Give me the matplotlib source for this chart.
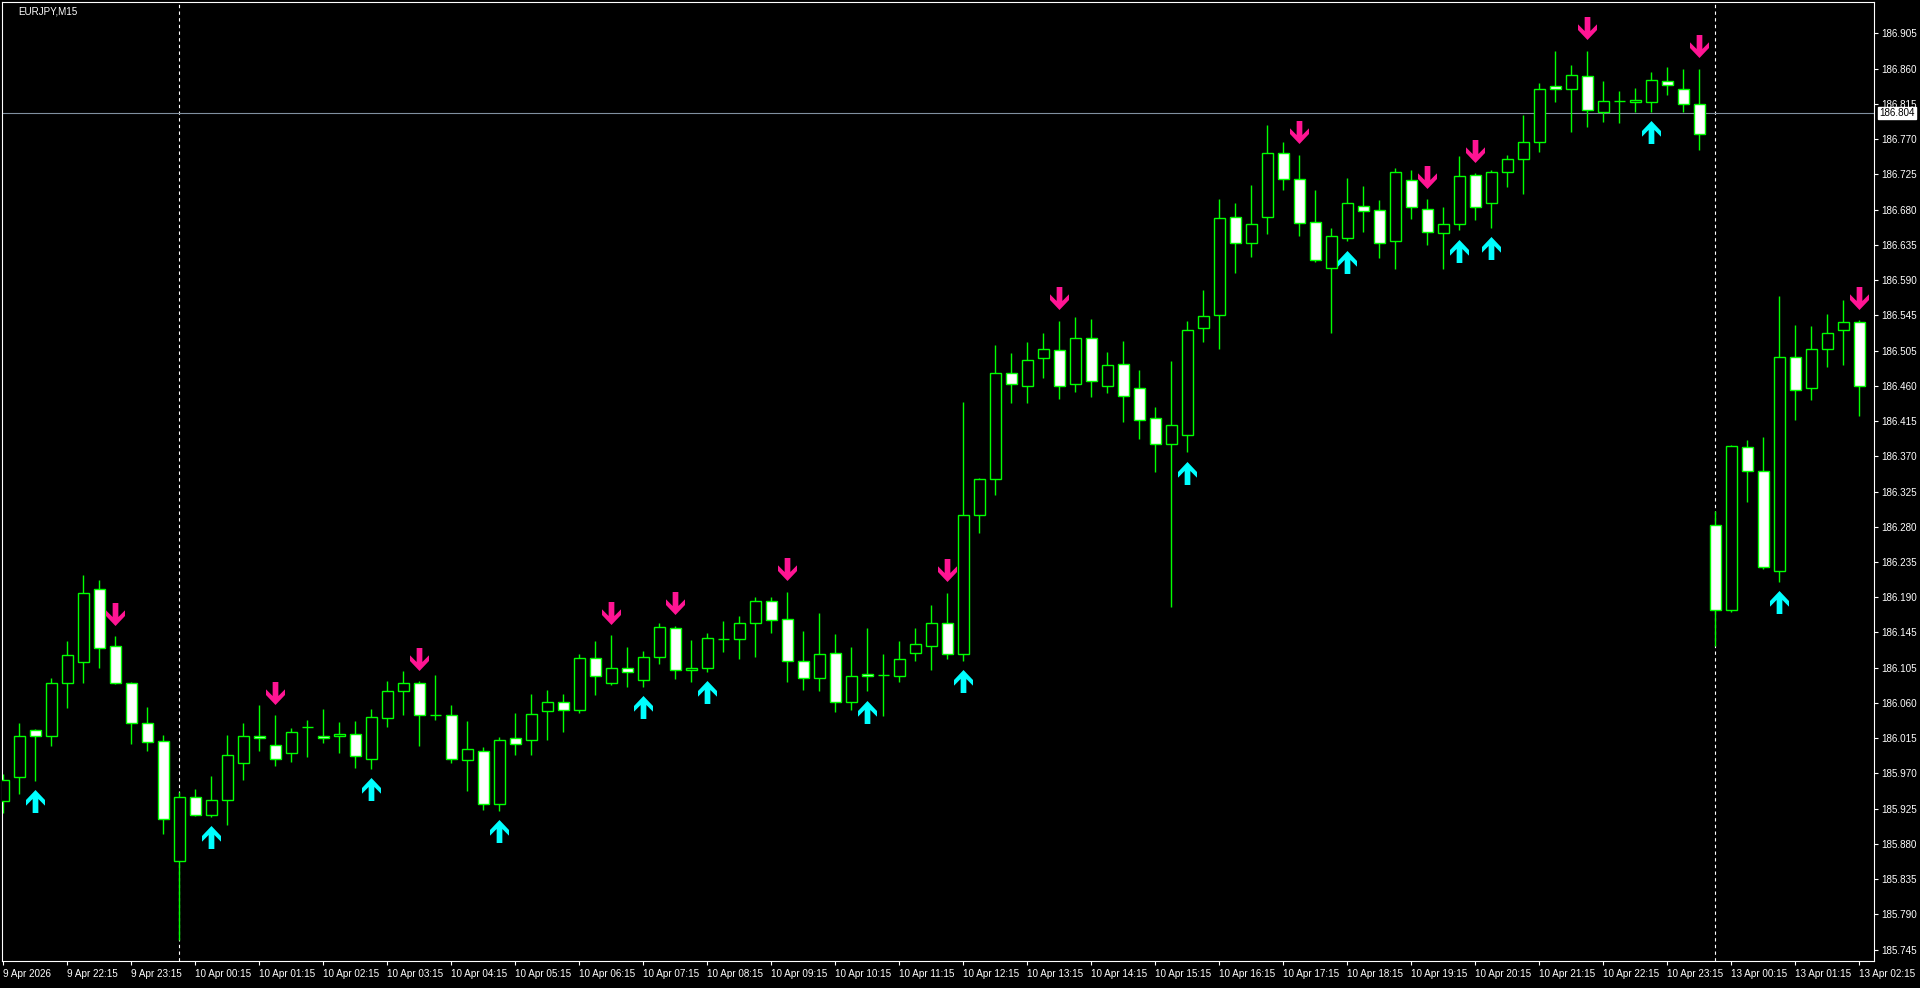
import numpy as np
import pandas as pd
import matplotlib
matplotlib.use("Agg")
import matplotlib.pyplot as plt
from matplotlib.path import Path
from matplotlib.transforms import ScaledTranslation, blended_transform_factory

plt.rcParams['font.family'] = ['Liberation Sans', 'DejaVu Sans']

# ---------------- data ----------------
chart_title = "EURJPY,M15"
session1 = pd.date_range("2026-04-09 21:15", "2026-04-10 23:45", freq="15min")
session2 = pd.date_range("2026-04-13 00:00", "2026-04-13 02:15", freq="15min")
bar_times = session1.append(session2)

opens = [185.933, 185.964, 186.023, 186.016, 186.083, 186.109, 186.201, 186.129, 186.082, 186.032,
         186.009, 185.857, 185.938, 185.915, 185.934, 185.981, 186.016, 186.004, 185.994, 186.027,
         186.015, 186.015, 186.018, 185.987, 186.038, 186.072, 186.083, 186.042, 186.042, 185.985,
         185.996, 185.929, 186.013, 186.011, 186.047, 186.058, 186.049, 186.114, 186.082, 186.102,
         186.086, 186.116, 186.152, 186.099, 186.101, 186.138, 186.138, 186.159, 186.187, 186.163,
         186.111, 186.089, 186.120, 186.058, 186.094, 186.093, 186.091, 186.120, 186.130, 186.159,
         186.119, 186.295, 186.341, 186.475, 186.459, 186.494, 186.504, 186.461, 186.519, 186.459,
         186.487, 186.456, 186.418, 186.385, 186.397, 186.532, 186.548, 186.672, 186.639, 186.673,
         186.753, 186.720, 186.666, 186.608, 186.646, 186.687, 186.681, 186.642, 186.719, 186.682,
         186.652, 186.664, 186.725, 186.690, 186.730, 186.746, 186.768, 186.838, 186.834, 186.851,
         186.806, 186.819, 186.818, 186.818, 186.844, 186.834, 186.816, 186.283, 186.175, 186.381,
         186.351, 186.225, 186.495, 186.456, 186.506, 186.530, 186.540]
highs = [185.967, 186.032, 186.024, 186.089, 186.136, 186.219, 186.213, 186.142, 186.084, 186.052,
         186.017, 185.945, 185.948, 185.965, 186.017, 186.032, 186.055, 186.042, 186.026, 186.036,
         186.050, 186.033, 186.034, 186.050, 186.085, 186.098, 186.085, 186.093, 186.055, 186.034,
         186.002, 186.014, 186.045, 186.069, 186.074, 186.069, 186.119, 186.136, 186.143, 186.128,
         186.123, 186.158, 186.155, 186.137, 186.146, 186.161, 186.167, 186.191, 186.191, 186.198,
         186.148, 186.171, 186.145, 186.128, 186.152, 186.119, 186.136, 186.152, 186.181, 186.197,
         186.438, 186.342, 186.510, 186.500, 186.514, 186.526, 186.541, 186.546, 186.543, 186.502,
         186.516, 186.479, 186.432, 186.490, 186.541, 186.580, 186.695, 186.690, 186.713, 186.789,
         186.767, 186.751, 186.707, 186.658, 186.722, 186.712, 186.694, 186.734, 186.732, 186.695,
         186.685, 186.750, 186.728, 186.732, 186.751, 186.802, 186.842, 186.883, 186.865, 186.883,
         186.845, 186.832, 186.836, 186.856, 186.862, 186.860, 186.860, 186.300, 186.384, 186.390,
         186.394, 186.572, 186.536, 186.534, 186.550, 186.567, 186.542]
lows = [185.918, 185.942, 185.959, 186.003, 186.051, 186.082, 186.102, 186.081, 186.006, 185.997,
        185.892, 185.757, 185.914, 185.913, 185.903, 185.960, 185.997, 185.978, 185.982, 185.989,
        186.007, 185.994, 185.975, 185.974, 186.027, 186.042, 186.003, 186.036, 185.981, 185.946,
        185.922, 185.921, 185.992, 185.991, 186.010, 186.021, 186.045, 186.068, 186.080, 186.077,
        186.078, 186.107, 186.088, 186.084, 186.097, 186.122, 186.113, 186.116, 186.146, 186.084,
        186.074, 186.073, 186.046, 186.048, 186.072, 186.041, 186.084, 186.110, 186.099, 186.113,
        186.111, 186.273, 186.320, 186.437, 186.437, 186.469, 186.442, 186.451, 186.445, 186.450,
        186.413, 186.392, 186.350, 186.179, 186.375, 186.514, 186.505, 186.602, 186.622, 186.651,
        186.707, 186.648, 186.615, 186.526, 186.642, 186.653, 186.620, 186.607, 186.670, 186.637,
        186.607, 186.656, 186.669, 186.659, 186.711, 186.702, 186.755, 186.818, 186.780, 186.787,
        186.793, 186.792, 186.806, 186.806, 186.827, 186.806, 186.757, 186.129, 186.172, 186.312,
        186.227, 186.211, 186.415, 186.441, 186.482, 186.485, 186.421]
closes = [185.960, 186.016, 186.016, 186.083, 186.118, 186.196, 186.127, 186.082, 186.032, 186.008,
          185.911, 185.938, 185.916, 185.934, 185.991, 186.015, 186.013, 185.986, 186.021, 186.027,
          186.013, 186.018, 185.990, 186.039, 186.072, 186.082, 186.042, 186.042, 185.986, 185.999,
          185.929, 186.011, 186.006, 186.043, 186.058, 186.049, 186.114, 186.091, 186.102, 186.096,
          186.116, 186.153, 186.099, 186.101, 186.140, 186.138, 186.158, 186.186, 186.162, 186.111,
          186.089, 186.119, 186.059, 186.092, 186.091, 186.093, 186.113, 186.132, 186.159, 186.119,
          186.295, 186.341, 186.475, 186.461, 186.492, 186.505, 186.459, 186.519, 186.465, 186.485,
          186.446, 186.416, 186.385, 186.409, 186.529, 186.547, 186.671, 186.639, 186.663, 186.753,
          186.720, 186.665, 186.618, 186.649, 186.690, 186.680, 186.639, 186.730, 186.685, 186.653,
          186.664, 186.724, 186.685, 186.730, 186.746, 186.767, 186.835, 186.835, 186.852, 186.808,
          186.819, 186.819, 186.820, 186.846, 186.839, 186.815, 186.777, 186.175, 186.382, 186.351,
          186.229, 186.495, 186.453, 186.506, 186.525, 186.540, 186.458]

sell_signal_bars = [7, 17, 26, 38, 42, 49, 59, 66, 81, 89, 92, 99, 106, 116]
buy_signal_bars = [2, 13, 23, 31, 40, 44, 54, 60, 74, 84, 91, 93, 103, 111]

bid_price = 186.804
price_labels = ["186.905", "186.860", "186.815", "186.770", "186.725", "186.680", "186.635",
                "186.590", "186.545", "186.505", "186.460", "186.415", "186.370", "186.325",
                "186.280", "186.235", "186.190", "186.145", "186.105", "186.060", "186.015",
                "185.970", "185.925", "185.880", "185.835", "185.790", "185.745"]

# ---------------- figure ----------------
W, H = 1920, 988
fig = plt.figure(figsize=(W / 100, H / 100), dpi=100, facecolor="black")
left_px, right_px, top_px, bottom_px = 2, 1874, 2, 961
ax = fig.add_axes([left_px / W, 1 - bottom_px / H, (right_px - left_px) / W, (bottom_px - top_px) / H])
ax.set_facecolor("black")

O = np.array(opens); Hh = np.array(highs); L = np.array(lows); C = np.array(closes)
x = np.arange(len(O))
green = "#00FF00"

ax.vlines(x, L, Hh, colors=green, linewidth=1.0, zorder=2)
fills = np.where(C > O, "black", "white")
ax.bar(x, np.abs(C - O), bottom=np.minimum(O, C), width=0.66, color=fills,
       edgecolor=green, linewidth=1.0, zorder=3)

# day separators
dates = bar_times.normalize()
for i in range(1, len(bar_times)):
    if dates[i] != dates[i - 1]:
        ax.axvline(i, color="white", linestyle=(0, (3, 3)), linewidth=0.8, zorder=1)

# bid line
ax.axhline(bid_price, color="#8090A0", linewidth=0.8, zorder=1)

# arrows
down_verts = [(-2.85, 11.5), (2.85, 11.5), (2.85, -2.5), (9.5, 4.2), (9.5, -1.5), (0, -11.5),
              (-9.5, -1.5), (-9.5, 4.2), (-2.85, -2.5), (-2.85, 11.5)]
down_path = Path(down_verts, closed=True)
up_path = Path([(vx, -vy) for vx, vy in down_verts], closed=True)
ms = 23 * 0.72
dtrans = ax.transData + ScaledTranslation(0, 0.225, fig.dpi_scale_trans)
utrans = ax.transData + ScaledTranslation(0, -0.205, fig.dpi_scale_trans)
ax.plot(sell_signal_bars, Hh[sell_signal_bars], linestyle="none", marker=down_path,
        markersize=ms, color="#FF1493", markeredgewidth=0, transform=dtrans, zorder=4)
ax.plot(buy_signal_bars, L[buy_signal_bars], linestyle="none", marker=up_path,
        markersize=ms, color="#00FFFF", markeredgewidth=0, transform=utrans, zorder=4)

# limits
px_per_unit = 790.0
y_top_price = 186.905 + (33.3 - top_px) / px_per_unit
y_bot_price = 186.905 - (bottom_px - 33.3) / px_per_unit
ax.set_ylim(y_bot_price, y_top_price)
ax.set_xlim((left_px - 3.3) / 16, (right_px - 3.3) / 16)

# y axis
ax.yaxis.tick_right()
ax.set_yticks(np.linspace(float(price_labels[0]), float(price_labels[-1]), len(price_labels)))
ax.set_yticklabels(price_labels)
# x axis
xt = list(range(0, len(bar_times), 4))
xl = []
for k in xt:
    t = bar_times[k]
    xl.append(f"{t.day} Apr {t.year}" if k == 0 else f"{t.day} Apr {t:%H:%M}")
ax.set_xticks(xt)
ax.set_xticklabels(xl, ha="left")
ax.tick_params(axis="both", colors="white", labelcolor="white", labelsize=7.1,
               direction="out", length=3, width=0.8)
ax.tick_params(axis="y", pad=2)
ax.tick_params(axis="x", pad=3)
for lab in ax.get_xticklabels():
    lab.set_clip_on(False)
for s in ax.spines.values():
    s.set_color("white")
    s.set_linewidth(0.8)

# bid label box
ax.text(1.0 + 5 / (right_px - left_px), bid_price, f"{bid_price:.3f}",
        transform=blended_transform_factory(ax.transAxes, ax.transData),
        ha="left", va="center", fontsize=7.1, color="black", zorder=10, clip_on=False,
        bbox=dict(facecolor="white", edgecolor="white", boxstyle="square,pad=0.12"))

fig.text(18 / W, 1 - 11 / H, chart_title, color="white", fontsize=7.1, ha="left", va="center")

fig.savefig("out.png", dpi=100, facecolor="black")
